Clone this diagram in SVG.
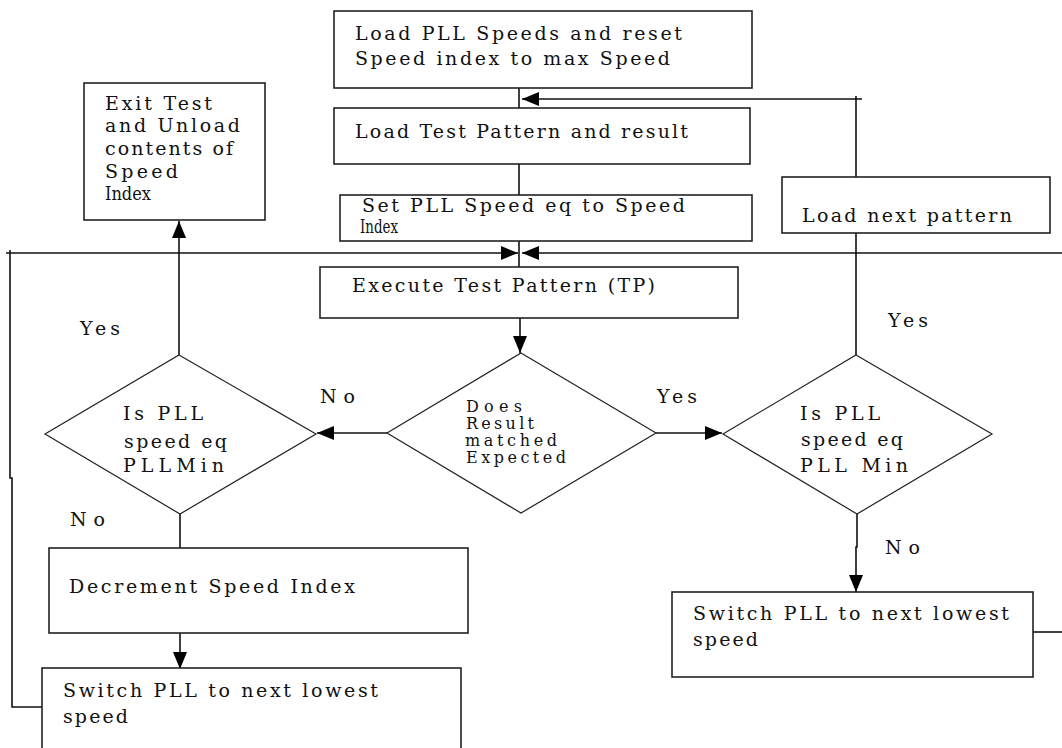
<svg xmlns="http://www.w3.org/2000/svg" width="1062" height="748" viewBox="0 0 1062 748">
<style>
.box{fill:#fff;stroke:#222;stroke-width:1.6}
.dia{fill:#fff;stroke:#222;stroke-width:1.2}
.ln{fill:none;stroke:#111;stroke-width:1.6}
text{font-family:"DejaVu Serif","Liberation Serif",serif;font-size:19px;fill:#111}
.sm{font-size:16px}
</style>
<defs>
<marker id="ah" markerUnits="userSpaceOnUse" markerWidth="18" markerHeight="16" viewBox="0 0 18 16" refX="17" refY="8" orient="auto">
<path d="M0,1 L17,8 L0,15 Z" fill="#000"/>
</marker>
</defs>
<rect width="1062" height="748" fill="#fff"/>
<g id="connectors">
<path class="ln" d="M519,88 V108"/>
<path class="ln" d="M856,177 V99 H522" marker-end="url(#ah)"/>
<path class="ln" d="M856,96 V99 H862"/>
<path class="ln" d="M519,164 V195"/>
<path class="ln" d="M519,241 V267"/>
<path class="ln" d="M42,707 H12 V478 H10 V250"/>
<path class="ln" d="M6,253 H518" marker-end="url(#ah)"/>
<path class="ln" d="M1062,253 H522" marker-end="url(#ah)"/>
<path class="ln" d="M1033,632 H1062"/>
<path class="ln" d="M520,318 V353" marker-end="url(#ah)"/>
<path class="ln" d="M387,433 H317" marker-end="url(#ah)"/>
<path class="ln" d="M656,433 H722" marker-end="url(#ah)"/>
<path class="ln" d="M179,355 V221" marker-end="url(#ah)"/>
<path class="ln" d="M180,514 V548"/>
<path class="ln" d="M180,633 V669" marker-end="url(#ah)"/>
<path class="ln" d="M856,355 V233"/>
<path class="ln" d="M857,514 V547 H856 V592" marker-end="url(#ah)"/>
</g>
<g id="n_load_speeds">
<rect class="box" x="334" y="11" width="418" height="77"/>
<text x="355" y="40" textLength="327" lengthAdjust="spacing">Load PLL Speeds and reset</text>
<text x="355" y="65" textLength="315" lengthAdjust="spacing">Speed index to max Speed</text>
</g>
<g id="n_load_pattern">
<rect class="box" x="334" y="108" width="416" height="56"/>
<text x="355" y="138" textLength="333" lengthAdjust="spacing">Load Test Pattern and result</text>
</g>
<g id="n_set_speed">
<rect class="box" x="340" y="195" width="412" height="46"/>
<text x="362" y="212" textLength="323" lengthAdjust="spacing">Set PLL Speed eq to Speed</text>
<text x="360" y="233" textLength="38" lengthAdjust="spacingAndGlyphs">Index</text>
</g>
<g id="n_execute">
<rect class="box" x="320" y="267" width="418" height="51"/>
<text x="352" y="292" textLength="303" lengthAdjust="spacing">Execute Test Pattern (TP)</text>
</g>
<g id="n_exit">
<rect class="box" x="84" y="83" width="181" height="137"/>
<text x="105" y="110" textLength="107" lengthAdjust="spacing">Exit Test</text>
<text x="105" y="132" textLength="135" lengthAdjust="spacing">and Unload</text>
<text x="105" y="155" textLength="128" lengthAdjust="spacing">contents of</text>
<text x="105" y="178" textLength="73" lengthAdjust="spacing">Speed</text>
<text x="105" y="200" textLength="46" lengthAdjust="spacingAndGlyphs">Index</text>
</g>
<g id="n_load_next">
<rect class="box" x="782" y="177" width="268" height="56"/>
<text x="802" y="222" textLength="210" lengthAdjust="spacing">Load next pattern</text>
</g>
<g id="n_does_match">
<polygon class="dia" points="521,353 656,433 521,513 387,433"/>
<text class="sm" x="466" y="412" textLength="56" lengthAdjust="spacing">Does</text>
<text class="sm" x="466" y="429" textLength="68" lengthAdjust="spacing">Result</text>
<text class="sm" x="465" y="446" textLength="92" lengthAdjust="spacing">matched</text>
<text class="sm" x="466" y="463" textLength="100" lengthAdjust="spacing">Expected</text>
</g>
<g id="n_is_min_left">
<polygon class="dia" points="179,355 316,434 180,514 45,434"/>
<text x="123" y="420" textLength="80" lengthAdjust="spacing">Is PLL</text>
<text x="124" y="448" textLength="103" lengthAdjust="spacing">speed eq</text>
<text x="123" y="472" textLength="101" lengthAdjust="spacing">PLLMin</text>
</g>
<g id="n_is_min_right">
<polygon class="dia" points="856,355 992,434 857,514 723,434"/>
<text x="800" y="420" textLength="80" lengthAdjust="spacing">Is PLL</text>
<text x="801" y="446" textLength="102" lengthAdjust="spacing">speed eq</text>
<text x="800" y="472" textLength="108" lengthAdjust="spacing">PLL Min</text>
</g>
<g id="n_decrement">
<rect class="box" x="49" y="548" width="419" height="85"/>
<text x="69" y="593" textLength="286" lengthAdjust="spacing">Decrement Speed Index</text>
</g>
<g id="n_switch_left">
<rect class="box" x="42" y="668" width="419" height="100"/>
<text x="63" y="697" textLength="315" lengthAdjust="spacing">Switch PLL to next lowest</text>
<text x="63" y="723" textLength="65" lengthAdjust="spacing">speed</text>
</g>
<g id="n_switch_right">
<rect class="box" x="672" y="592" width="361" height="85"/>
<text x="693" y="620" textLength="316" lengthAdjust="spacing">Switch PLL to next lowest</text>
<text x="693" y="646" textLength="65" lengthAdjust="spacing">speed</text>
</g>
<g id="labels">
<text x="80" y="335" textLength="40" lengthAdjust="spacing">Yes</text>
<text x="657" y="403" textLength="40" lengthAdjust="spacing">Yes</text>
<text x="888" y="327" textLength="40" lengthAdjust="spacing">Yes</text>
<text x="320" y="403" textLength="35" lengthAdjust="spacing">No</text>
<text x="70" y="526" textLength="35" lengthAdjust="spacing">No</text>
<text x="885" y="554" textLength="35" lengthAdjust="spacing">No</text>
</g>
</svg>
